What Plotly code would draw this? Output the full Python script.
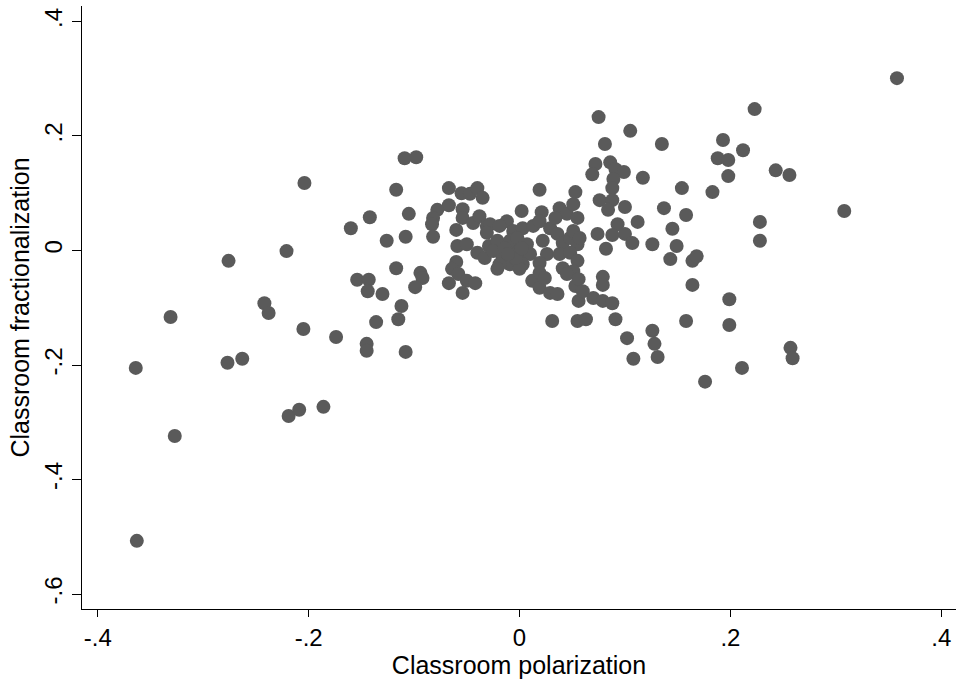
import plotly.graph_objects as go

# Classroom polarization (x) and classroom fractionalization (y)
polarization = [
    -0.364, -0.363, -0.331, -0.327, -0.276, -0.277, -0.263, -0.242, -0.238, -0.221,
    -0.219, -0.209, -0.204, -0.205, -0.186, -0.174, -0.160, -0.154, -0.143, -0.144,
    -0.130, -0.142, -0.126, -0.136, -0.145, -0.145, -0.117, -0.117, -0.112, -0.115,
    -0.108, -0.109, -0.098, -0.105, -0.108, -0.094, -0.092, -0.099, -0.067, -0.055,
    -0.047, -0.040, -0.035, -0.067, -0.078, -0.082, -0.083, -0.082, -0.054, -0.054,
    -0.044, -0.038, -0.060, -0.031, -0.059, -0.040, -0.033, -0.029, -0.060, -0.064,
    -0.058, -0.067, -0.050, -0.042, -0.054, -0.028, -0.031, -0.050, 0.019, 0.002,
    0.021, -0.012, -0.006, -0.019, 0.003, 0.013, 0.019, 0.029, 0.038, 0.045,
    0.034, -0.021, -0.025, -0.016, -0.006, 0.000, 0.007, 0.010, -0.009, -0.019,
    0.003, 0.022, 0.026, 0.019, 0.036, 0.041, 0.048, 0.055, 0.038, 0.048,
    0.055, 0.041, 0.051, -0.021, 0.000, 0.012, 0.019, 0.019, 0.024, 0.029,
    0.036, 0.053, 0.056, 0.031, 0.055, -0.009, -0.002, -0.014, -0.004, 0.002,
    -0.011, 0.053, 0.075, 0.105, 0.135, 0.081, 0.072, 0.069, 0.086, 0.091,
    0.099, 0.089, 0.088, 0.117, 0.154, 0.076, 0.088, 0.084, 0.100, 0.137,
    0.158, 0.051, 0.055, 0.112, 0.145, 0.093, 0.074, 0.088, 0.100, 0.107,
    0.126, 0.149, 0.082, 0.051, 0.057, 0.143, 0.164, 0.168, 0.045, 0.079,
    0.079, 0.056, 0.060, 0.070, 0.079, 0.088, 0.164, 0.063, 0.091, 0.158,
    0.126, 0.102, 0.128, 0.131, 0.108, 0.358, 0.223, 0.193, 0.212, 0.188,
    0.198, 0.198, 0.243, 0.256, 0.183, 0.308, 0.228, 0.228, 0.199, 0.199,
    0.257, 0.259, 0.211, 0.176,
]
fractionalization = [
    -0.205, -0.507, -0.116, -0.324, -0.018, -0.196, -0.189, -0.092, -0.109, -0.001,
    -0.289, -0.278, 0.118, -0.137, -0.273, -0.151, 0.039, -0.051, -0.051, -0.071,
    -0.076, 0.058, 0.017, -0.125, -0.163, -0.175, 0.106, -0.031, -0.097, -0.120,
    -0.177, 0.161, 0.163, 0.064, 0.024, -0.039, -0.048, -0.064, 0.109, 0.100,
    0.099, 0.109, 0.092, 0.079, 0.071, 0.057, 0.046, 0.024, 0.072, 0.057,
    0.048, 0.060, 0.036, 0.043, 0.008, -0.004, -0.013, 0.008, -0.020, -0.032,
    -0.041, -0.057, -0.053, -0.057, -0.074, 0.046, 0.031, 0.011, 0.106, 0.069,
    0.067, 0.051, 0.034, 0.043, 0.039, 0.043, 0.051, 0.039, 0.074, 0.064,
    0.057, 0.017, -0.001, -0.013, 0.004, -0.006, 0.011, -0.006, -0.024, -0.024,
    -0.024, 0.017, -0.006, -0.022, 0.029, 0.013, 0.022, 0.011, -0.006, -0.004,
    -0.018, -0.031, -0.036, -0.032, -0.032, -0.053, -0.039, -0.065, -0.048, -0.074,
    -0.076, -0.062, -0.088, -0.123, -0.123, 0.017, 0.022, 0.004, -0.013, 0.004,
    -0.006, 0.102, 0.233, 0.209, 0.186, 0.186, 0.151, 0.133, 0.154, 0.142,
    0.137, 0.125, 0.109, 0.127, 0.109, 0.088, 0.088, 0.071, 0.076, 0.074,
    0.062, 0.081, 0.057, 0.050, 0.038, 0.046, 0.029, 0.027, 0.029, 0.013,
    0.011, 0.008, 0.003, 0.034, 0.022, -0.015, -0.018, -0.010, -0.041, -0.046,
    -0.060, -0.050, -0.071, -0.083, -0.088, -0.092, -0.060, -0.120, -0.120, -0.123,
    -0.140, -0.153, -0.163, -0.186, -0.189, 0.301, 0.247, 0.193, 0.175, 0.161,
    0.158, 0.130, 0.140, 0.132, 0.102, 0.069, 0.050, 0.017, -0.085, -0.130,
    -0.170, -0.188, -0.205, -0.229,
]

x_tickvals = [-0.4, -0.2, 0, 0.2, 0.4]
x_ticktext = ["-.4", "-.2", "0", ".2", ".4"]
y_tickvals = [-0.6, -0.4, -0.2, 0, 0.2, 0.4]
y_ticktext = ["-.6", "-.4", "-.2", "0", ".2", ".4"]

FONT = "Liberation Sans, Arial, sans-serif"

fig = go.Figure(
    go.Scatter(
        x=polarization,
        y=fractionalization,
        mode="markers",
        marker=dict(size=14, color="rgb(90,90,90)", line=dict(width=0)),
        hoverinfo="x+y",
    )
)

fig.update_layout(
    width=956,
    height=681,
    margin=dict(l=82, r=0, t=6, b=72),
    paper_bgcolor="white",
    plot_bgcolor="white",
    showlegend=False,
    font=dict(family=FONT, size=24, color="black"),
)

fig.update_xaxes(
    range=[-0.415, 0.414],
    tickvals=x_tickvals,
    ticktext=x_ticktext,
    ticks="outside",
    ticklen=7,
    tickwidth=1.3,
    tickcolor="black",
    showline=True,
    linecolor="black",
    linewidth=1.3,
    showgrid=False,
    zeroline=False,
    tickfont=dict(family=FONT, size=24, color="black"),
    title=dict(text="Classroom polarization", font=dict(family=FONT, size=25, color="black"), standoff=0),
    automargin=False,
)

fig.update_yaxes(
    range=[-0.626, 0.427],
    tickvals=y_tickvals,
    ticktext=y_ticktext,
    ticks="outside",
    ticklen=9,
    tickwidth=1.3,
    tickcolor="black",
    showline=True,
    linecolor="black",
    linewidth=1.3,
    showgrid=False,
    zeroline=False,
    tickangle=-90,
    tickfont=dict(family=FONT, size=24, color="black"),
    title=dict(text="Classroom fractionalization", font=dict(family=FONT, size=25, color="black"), standoff=3),
    automargin=False,
)

fig.write_html(
    "out.html",
    config={"displayModeBar": False},
    post_script="document.body.style.margin='0px';document.body.style.overflow='hidden';",
)
